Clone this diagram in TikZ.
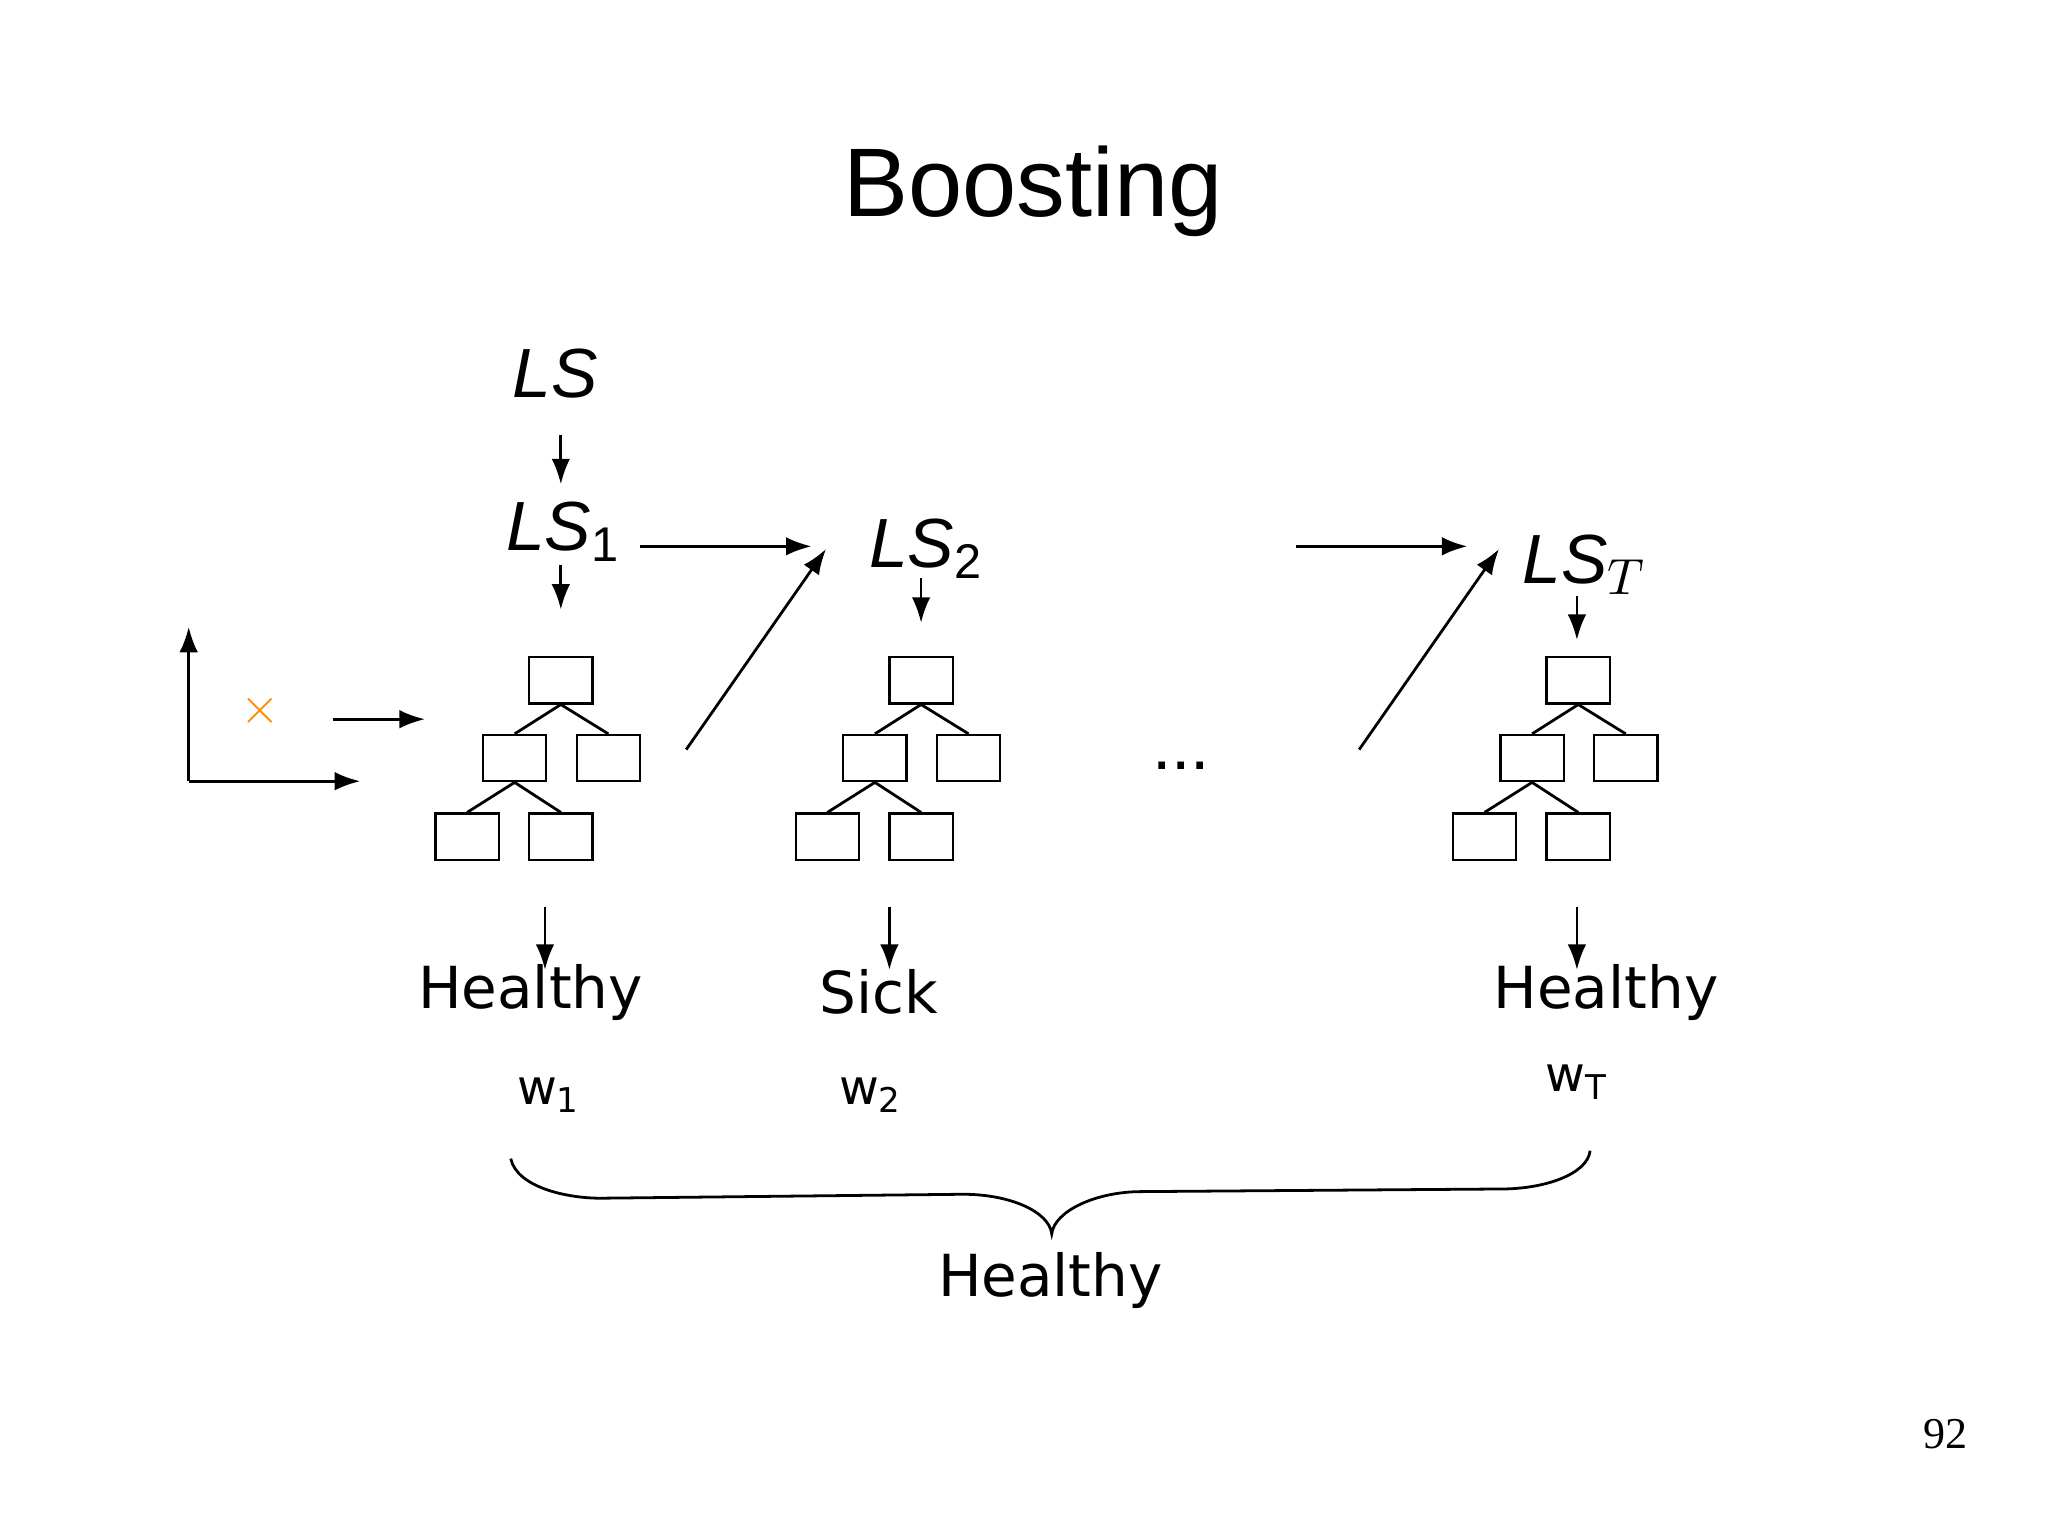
\documentclass[tikz,border=0pt]{standalone}
\usepackage{fontspec}
\setmainfont{Liberation Sans}
\newfontfamily\dv{DejaVu Sans}
\newfontfamily\sr{Liberation Serif}
\usetikzlibrary{arrows.meta}
\begin{document}
\begin{tikzpicture}[x=0.01cm,y=-0.01cm,
  box/.style={draw,line width=0.5pt,minimum width=48*0.01cm,minimum height=35*0.01cm,inner sep=0},
  arr/.style={line width=0.6pt,-{Latex[length=5.5pt,width=4pt]}},
  ln/.style={line width=0.6pt},
  lsf/.style={font=\fontsize{15}{15}\selectfont\itshape},
  lab/.style={font=\dv\fontsize{12.5}{13}\selectfont},
  wf/.style={font=\dv\fontsize{10.5}{11}\selectfont}]
\useasboundingbox (0,0) rectangle (1552,1163);
\node (title) at (783,145) {\fontsize{21}{21}\selectfont Boosting};
\node[lsf] (ls) at (421,283) {LS};
\node[lsf] (ls1) at (427,403) {LS$_{\mathrm{1}}$};
\node[lsf] (ls2) at (702,416) {LS$_{\mathrm{2}}$};
\node[lsf] (lsT) at (1201,428) {LS$_T$};
\coordinate (a1) at (425,330); \coordinate (a2) at (425,367);
\draw[arr] (a1) -- (a2);
\coordinate (b1) at (425,428); \coordinate (b2) at (425,462);
\draw[arr] (b1) -- (b2);
\coordinate (c1) at (485,414); \coordinate (c2) at (615,414);
\draw[arr] (c1) -- (c2);
\coordinate (d1) at (520,568); \coordinate (d2) at (626,416);
\draw[arr] (d1) -- (d2);
\coordinate (e1) at (698,438); \coordinate (e2) at (698,472);
\draw[arr] (e1) -- (e2);
\coordinate (f1) at (982,414); \coordinate (f2) at (1112,414);
\draw[arr] (f1) -- (f2);
\coordinate (g1) at (1030,568); \coordinate (g2) at (1136,416);
\draw[arr] (g1) -- (g2);
\coordinate (h1) at (1195,452); \coordinate (h2) at (1195,485);
\draw[arr] (h1) -- (h2);
% axes
\coordinate (o) at (143,592); \coordinate (oy) at (143,475); \coordinate (ox) at (273,592);
\draw[arr] (o) -- (oy); \draw[arr] (o) -- (ox);
\node[text=orange!90!yellow,font=\bfseries\fontsize{11}{11}\selectfont] (xm) at (197,539) {$\times$};
\coordinate (i1) at (252,545); \coordinate (i2) at (322,545);
\draw[arr] (i1) -- (i2);
% trees
\foreach \dx/\n in {0/1,273/2,771/3}{
  \begin{scope}[xshift=\dx*0.01cm]
  \node[box] (r\n) at (425,515.5) {};
  \node[box] (l\n) at (390,574.5) {};
  \node[box] (rr\n) at (461,574.5) {};
  \node[box] (ll\n) at (354,634) {};
  \node[box] (lr\n) at (425,634) {};
  \draw[ln] (r\n.south) -- (l\n.north) (r\n.south) -- (rr\n.north);
  \draw[ln] (l\n.south) -- (ll\n.north) (l\n.south) -- (lr\n.north);
  \end{scope}
}
\node[font=\fontsize{15}{15}\selectfont] (dots) at (895,580) {...};
\coordinate (j1) at (413,687); \coordinate (j2) at (413,735); \draw[arr] (j1) -- (j2);
\coordinate (k1) at (674,687); \coordinate (k2) at (674,735); \draw[arr] (k1) -- (k2);
\coordinate (m1) at (1195,687); \coordinate (m2) at (1195,735); \draw[arr] (m1) -- (m2);
\node[lab] (o1) at (402,752) {Healthy};
\node[lab] (o2) at (666,752) {Sick};
\node[lab] (o3) at (1217,752) {Healthy};
\node[wf] (w1) at (416,830) {w\textsubscript{1}};
\node[wf] (w2) at (660,830) {w\textsubscript{2}};
\node[wf] (wT) at (1195,820) {w\textsubscript{T}};
\draw[ln] (387,878) .. controls (392,900) and (430,908) .. (455,908)
  -- (730,905) .. controls (765,905) and (795,918) .. (797,935)
  .. controls (799,918) and (830,903) .. (865,903)
  -- (1138,901) .. controls (1170,901) and (1203,890) .. (1205,872);
\node[lab] (final) at (796,970) {Healthy};
\node[font=\sr\fontsize{9.5}{10}\selectfont] (pg) at (1474,1087) {92};
\end{tikzpicture}
\end{document}
